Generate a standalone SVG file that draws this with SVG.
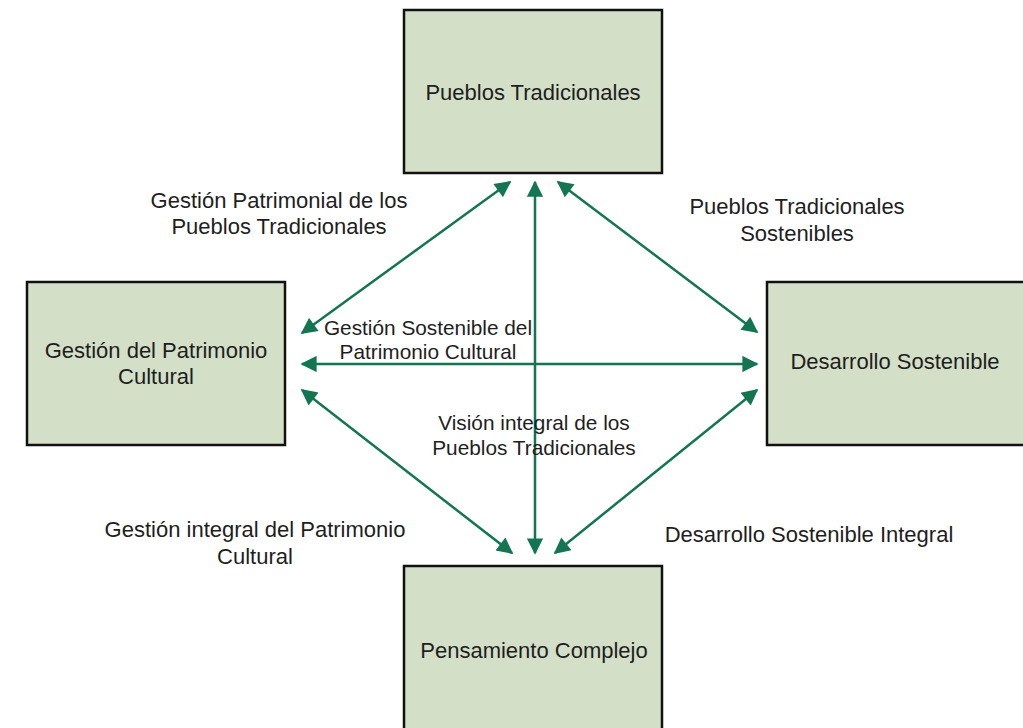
<svg xmlns="http://www.w3.org/2000/svg" width="1023" height="728" viewBox="0 0 1023 728">
<style>
.box{fill:#d4dfc8;stroke:#111;stroke-width:2.5}
.t{font-family:"Liberation Sans",Arial,sans-serif;font-size:22px;fill:#1e1e1e;text-anchor:middle}
.s{font-size:20.8px}
.c{stroke:#137552;stroke-width:2.5;fill:none;marker-start:url(#ah);marker-end:url(#ah)}
</style>
<defs>
<marker id="ah" viewBox="0 0 10 10" refX="9" refY="5" markerWidth="7.5" markerHeight="6.5" orient="auto-start-reverse" markerUnits="strokeWidth">
<path d="M0,0 L10,5 L0,10 z" fill="#137552"/>
</marker>
</defs>
<rect width="1023" height="728" fill="#fff"/>
<g id="connectors">
<line class="c" x1="510" y1="182" x2="302" y2="333"/>
<line class="c" x1="535" y1="182" x2="535" y2="553"/>
<line class="c" x1="558" y1="182" x2="757" y2="332"/>
<line class="c" x1="302" y1="364" x2="757" y2="364"/>
<line class="c" x1="302" y1="390" x2="512" y2="553"/>
<line class="c" x1="757" y1="390" x2="555" y2="553"/>
</g>
<g id="labels">
<text class="t" x="279" y="208">Gestión Patrimonial de los</text>
<text class="t" x="279" y="234">Pueblos Tradicionales</text>
<text class="t" x="797" y="214">Pueblos Tradicionales</text>
<text class="t" x="797" y="241">Sostenibles</text>
<text class="t s" x="428" y="335">Gestión Sostenible del</text>
<text class="t s" x="428" y="359">Patrimonio Cultural</text>
<text class="t s" x="534" y="430">Visión integral de los</text>
<text class="t s" x="534" y="455">Pueblos Tradicionales</text>
<text class="t" x="255" y="537">Gestión integral del Patrimonio</text>
<text class="t" x="255" y="564">Cultural</text>
<text class="t" x="809" y="542">Desarrollo Sostenible Integral</text>
</g>
<g id="node-pueblos">
<rect class="box" x="404" y="10" width="258" height="163"/>
<text class="t" x="533" y="100">Pueblos Tradicionales</text>
</g>
<g id="node-gestion">
<rect class="box" x="27" y="282" width="258" height="163"/>
<text class="t" x="156" y="358">Gestión del Patrimonio</text>
<text class="t" x="156" y="384">Cultural</text>
</g>
<g id="node-desarrollo">
<rect class="box" x="767" y="282" width="270" height="163"/>
<text class="t" x="895" y="369">Desarrollo Sostenible</text>
</g>
<g id="node-pensamiento">
<rect class="box" x="404" y="566" width="258" height="180"/>
<text class="t" x="534" y="658">Pensamiento Complejo</text>
</g>
</svg>
